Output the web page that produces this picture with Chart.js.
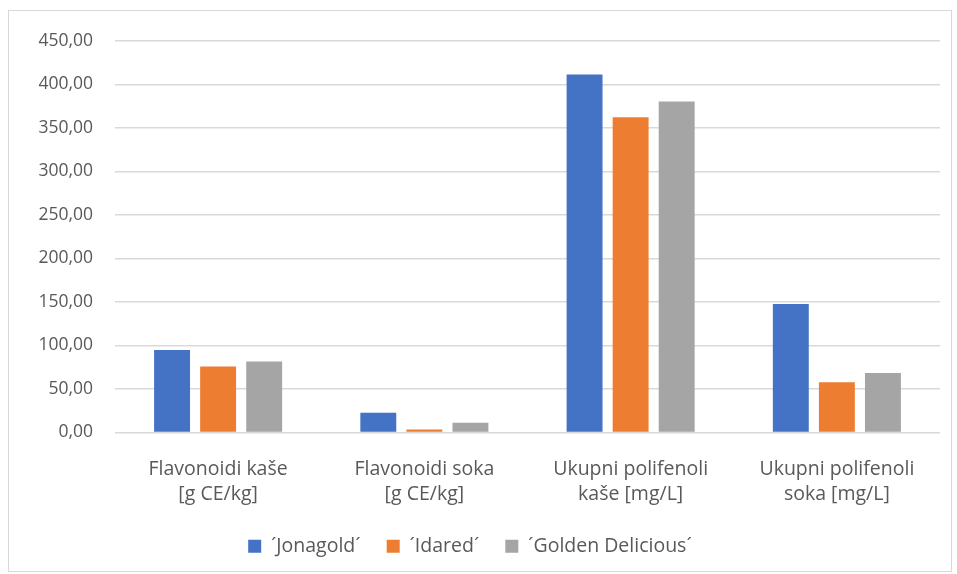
<!DOCTYPE html>
<html>
<head>
<meta charset="utf-8">
<script src="https://cdn.jsdelivr.net/npm/chart.js@4.4.0/dist/chart.umd.min.js"></script>
<style>
  html, body { margin: 0; padding: 0; background: #fff; }
  #wrap { position: relative; width: 957px; height: 574px; }
  #frame { position: absolute; left: 8px; top: 10px; width: 944px; height: 562px; border: 1px solid #d9d9d9; box-sizing: border-box; pointer-events: none; }
</style>
</head>
<body>
<div id="wrap">
  <canvas id="chart" width="957" height="574"></canvas>
  <div id="frame"></div>
</div>
<script>
const categories = [
  ['Flavonoidi kaše', '[g CE/kg]'],
  ['Flavonoidi soka', '[g CE/kg]'],
  ['Ukupni polifenoli', 'kaše [mg/L]'],
  ['Ukupni polifenoli', 'soka [mg/L]']
];
const seriesNames = ['´Jonagold´', '´Idared´', '´Golden Delicious´'];
const jonagold = [94.7, 22.6, 411.5, 147.6];
const idared = [75.9, 3.4, 362.5, 57.9];
const golden = [81.6, 11.1, 380.5, 68.3];
const colors = ['#4472C4', '#ED7D31', '#A5A5A5'];

const textColor = '#595959';
const fontFamily = '"Open Sans", sans-serif';

const chart = new Chart(document.getElementById('chart'), {
  type: 'bar',
  data: {
    labels: categories,
    datasets: [jonagold, idared, golden].map((vals, i) => ({
      label: seriesNames[i],
      data: vals,
      backgroundColor: colors[i],
      barPercentage: 0.78,
      categoryPercentage: 0.67
    }))
  },
  options: {
    responsive: false,
    animation: false,
    layout: { padding: { left: 0, right: 17, top: 41, bottom: 8 } },
    plugins: {
      legend: {
        position: 'bottom',
        labels: {
          color: textColor,
          font: { family: fontFamily, size: 19.5 },
          boxWidth: 13,
          boxHeight: 13,
          padding: 26
        }
      },
      tooltip: { enabled: false }
    },
    scales: {
      x: {
        grid: { display: false },
        border: { display: false },
        ticks: {
          color: textColor,
          font: { family: fontFamily, size: 19.5, lineHeight: 1.28 },
          padding: 16,
          maxRotation: 0
        },
        afterFit: (scale) => { scale.height = 78; }
      },
      y: {
        min: 0,
        max: 450,
        grid: { color: '#d9d9d9', lineWidth: 1.5, drawTicks: false },
        border: { display: false },
        ticks: {
          stepSize: 50,
          color: textColor,
          font: { family: fontFamily, size: 17.5 },
          padding: 22,
          callback: (v) => v.toFixed(2).replace('.', ',')
        },
        afterFit: (scale) => { scale.width = 115; }
      }
    }
  }
});
</script>
</body>
</html>
